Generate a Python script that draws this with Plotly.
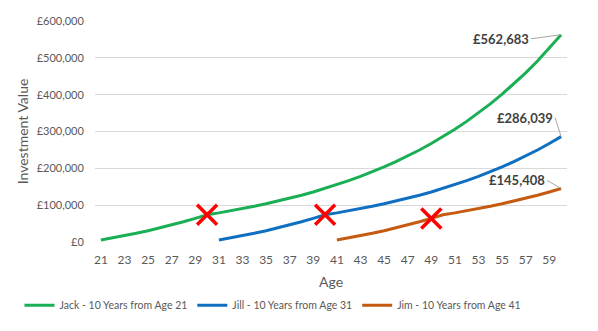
import plotly.graph_objects as go

ages_jack = list(range(21, 61))
ages_jill = list(range(31, 61))
ages_jim = list(range(41, 61))

jack = [5350, 11075, 17200, 23754, 30766, 38270, 46299, 54890, 64082, 73918,
        79092, 84628, 90552, 96891, 103673, 110930, 118695, 127004, 135894, 145407,
        155585, 166476, 178129, 190598, 203940, 218216, 233491, 249835, 267324, 286036,
        306059, 327483, 350407, 374935, 401181, 429263, 459312, 491463, 525866, 562683]
jill = [5350, 11075, 17200, 23754, 30766, 38270, 46299, 54890, 64082, 73918,
        79092, 84628, 90552, 96891, 103673, 110930, 118695, 127004, 135894, 145407,
        155585, 166476, 178129, 190598, 203940, 218216, 233491, 249835, 267324, 286039]
jim = [5350, 11075, 17200, 23754, 30766, 38270, 46299, 54890, 64082, 73918,
       79092, 84628, 90552, 96891, 103673, 110930, 118695, 127004, 135894, 145408]

cross_ages = [30, 40, 49]
cross_vals = [73918, 73918, 64082]

names = ["Jack - 10 Years from Age 21", "Jill - 10 Years from Age 31", "Jim - 10 Years from Age 41"]
colors = ["#1AAF54", "#0F6FC0", "#C55A11"]

FONT = "Lato"
GRAY = "#595959"

fig = go.Figure()
for x, y, n, c in [(ages_jack, jack, names[0], colors[0]),
                   (ages_jill, jill, names[1], colors[1]),
                   (ages_jim, jim, names[2], colors[2])]:
    fig.add_trace(go.Scatter(x=x, y=y, mode="lines", name=n,
                             line=dict(color=c, width=3), hoverinfo="skip"))

fig.add_trace(go.Scatter(x=cross_ages, y=cross_vals, mode="markers", showlegend=False,
                         marker=dict(symbol="x-thin", size=20, line=dict(color="#FF0000", width=3.5))))

labels = [(60, jack[-1], "£562,683", -30, 4),
          (60, jill[-1], "£286,039", -6, -19),
          (60, jim[-1], "£145,408", -14, -8)]
for x, y, t, ax, ay in labels:
    fig.add_annotation(x=x, y=y, text="<b>%s</b>" % t, showarrow=True, arrowhead=0,
                       arrowwidth=1, arrowcolor="#A6A6A6", ax=ax, ay=ay, xanchor="right",
                       font=dict(family=FONT, size=13, color="#404040"))

fig.add_annotation(x=0.5, y=-0.18, xref="paper", yref="paper", text="Age", showarrow=False,
                   xanchor="center", yanchor="middle", font=dict(family=FONT, size=14, color=GRAY))
fig.add_annotation(x=-0.153, y=0.5, xref="paper", yref="paper", text="Investment Value",
                   showarrow=False, textangle=-90, xanchor="center", yanchor="middle",
                   font=dict(family=FONT, size=14, color=GRAY))

fig.update_layout(
    width=598, height=331,
    margin=dict(l=95, r=31, t=21, b=88),
    paper_bgcolor="white", plot_bgcolor="white",
    font=dict(family=FONT, size=11, color=GRAY),
    showlegend=True,
    legend=dict(orientation="h", x=-0.16, xanchor="left",
                y=-0.28, yanchor="middle",
                font=dict(family=FONT, size=10.5, color=GRAY), tracegroupgap=0),
    xaxis=dict(range=[20.5, 60.5], tick0=21, dtick=2, showgrid=False, zeroline=False,
               showline=False, ticks="outside", ticklen=7, tickcolor="rgba(0,0,0,0)",
               tickfont=dict(size=12, color=GRAY)),
    yaxis=dict(range=[0, 600000], dtick=100000, tickprefix="£", tickformat=",",
               showgrid=True, gridcolor="#D9D9D9", gridwidth=1, zeroline=False,
               ticks="outside", ticklen=8, tickcolor="rgba(0,0,0,0)",
               tickfont=dict(size=11, color=GRAY)),
)

fig.write_html("out.html")
